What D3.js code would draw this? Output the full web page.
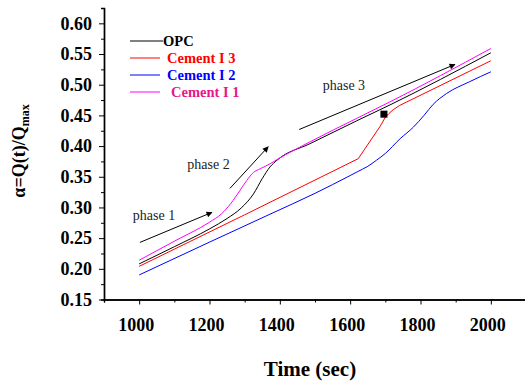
<!DOCTYPE html>
<html>
<head>
<meta charset="utf-8">
<script src="https://cdn.jsdelivr.net/npm/d3@7"></script>
<style>
  body { margin: 0; background: #fff; }
  svg { font-family: "Liberation Serif", "Times New Roman", serif; }
  .axis path, .axis line { stroke: #000; }
  .axis text { font-family: "Liberation Serif", "Times New Roman", serif; font-size: 18px; font-weight: bold; fill: #000; }
</style>
</head>
<body>
<svg id="chart" width="525" height="383"></svg>
<script>
// data (time in sec, alpha = Q(t)/Qmax)
var opcTime = [1000, 1100, 1200, 1250, 1290, 1325, 1350, 1372, 1392, 1486, 1618, 1713, 2000];
var opcAlpha = [0.208, 0.236, 0.265, 0.282, 0.299, 0.322, 0.347, 0.366, 0.377, 0.404, 0.441, 0.467, 0.552];

var c13Time = [1000, 1300, 1623, 1685, 1699, 1710, 1722, 1740, 2000];
var c13Alpha = [0.204, 0.288, 0.3795, 0.432, 0.446, 0.453, 0.459, 0.466, 0.539];

var c12Time = [1000, 1200, 1372, 1500, 1600, 1620, 1650, 1675, 1700, 1742, 1780, 1810, 1836, 1874, 1940, 2000];
var c12Alpha = [0.190, 0.2435, 0.289, 0.323, 0.352, 0.358, 0.367, 0.377, 0.388, 0.412, 0.431, 0.450, 0.468, 0.4856, 0.505, 0.521];

var c11Time = [1000, 1100, 1200, 1235, 1260, 1287, 1306, 1325, 1344, 1372, 1392, 1486, 1618, 1713, 2000];
var c11Alpha = [0.214, 0.245, 0.276, 0.290, 0.306, 0.328, 0.344, 0.357, 0.363, 0.371, 0.378, 0.407, 0.445, 0.472, 0.559];

var seriesNames = ["OPC", "Cement I 3", "Cement I 2", "Cement I 1"];
var seriesColors = ["#000000", "#ff0000", "#0000ff", "#ff00ff"];
var labelColors = ["#000000", "#ff0000", "#0000ff", "#e6178a"];

var xMajorTicks = [1000, 1200, 1400, 1600, 1800, 2000];
var yMajorTicks = [0.15, 0.20, 0.25, 0.30, 0.35, 0.40, 0.45, 0.50, 0.55, 0.60];

// annotations in data units
var phaseLabels = ["phase 1", "phase 2", "phase 3"];
var phaseText = [[982, 0.280], [1137, 0.363], [1522, 0.492]];
var phaseArrows = [[[1002, 0.243], [1207, 0.292]], [[1258, 0.331], [1367, 0.399]], [[1455, 0.427], [1898, 0.533]]];
var squareMark = [1696, 0.452];

var svg = d3.select("#chart");

var xScale = d3.scaleLinear().domain([900, 2100]).range([104, 526]);
var yScale = d3.scaleLinear().domain([0.15, 0.625]).range([299.5, 8]);

// minor ticks first, then major ones with labels
var xMinor = d3.range(900, 2101, 100).filter(function (d) { return xMajorTicks.indexOf(d) < 0; });
svg.append("g")
    .attr("class", "axis")
    .attr("transform", "translate(0,299.5)")
    .call(d3.axisBottom(xScale).tickValues(xMinor).tickSize(3).tickFormat(""));

var xAxis = svg.append("g")
    .attr("class", "axis")
    .attr("transform", "translate(0,299.5)")
    .call(d3.axisBottom(xScale).tickValues(xMajorTicks).tickSize(5).tickSizeOuter(0).tickPadding(10).tickFormat(d3.format("d")));
xAxis.selectAll("text").attr("dx", -3.5).attr("dy", "0.9em");

var yMinor = d3.range(0.175, 0.63, 0.05);
svg.append("g")
    .attr("class", "axis")
    .attr("transform", "translate(104,0)")
    .call(d3.axisLeft(yScale).tickValues(yMinor).tickSize(3).tickFormat(""));

svg.append("g")
    .attr("class", "axis")
    .attr("transform", "translate(104,0)")
    .call(d3.axisLeft(yScale).tickValues(yMajorTicks).tickSize(5).tickSizeOuter(0).tickPadding(7).tickFormat(d3.format(".2f")));

svg.selectAll(".axis").attr("font-family", null);
svg.selectAll(".axis .domain").attr("stroke-width", 1.4);

// curves
var allSeries = [
    opcTime.map(function (t, i) { return [t, opcAlpha[i]]; }),
    c13Time.map(function (t, i) { return [t, c13Alpha[i]]; }),
    c12Time.map(function (t, i) { return [t, c12Alpha[i]]; }),
    c11Time.map(function (t, i) { return [t, c11Alpha[i]]; })
];

var smooth = d3.line()
    .x(function (d) { return xScale(d[0]); })
    .y(function (d) { return yScale(d[1]); })
    .curve(d3.curveMonotoneX);

var straight = d3.line()
    .x(function (d) { return xScale(d[0]); })
    .y(function (d) { return yScale(d[1]); });

// draw order: blue, red, black, magenta
[2, 1, 0, 3].forEach(function (k) {
    svg.append("path")
        .datum(allSeries[k])
        .attr("fill", "none")
        .attr("stroke", seriesColors[k])
        .attr("stroke-width", 1)
        .attr("d", k === 1 ? straight : smooth);
});

// arrows
svg.append("defs").append("marker")
    .attr("id", "head")
    .attr("viewBox", "0 0 10 10")
    .attr("refX", 9).attr("refY", 5)
    .attr("markerWidth", 9).attr("markerHeight", 6)
    .attr("markerUnits", "userSpaceOnUse")
    .attr("orient", "auto")
    .append("path")
    .attr("d", "M0,0L10,5L0,10Z")
    .attr("fill", "#000");

phaseArrows.forEach(function (a) {
    svg.append("line")
        .attr("x1", xScale(a[0][0])).attr("y1", yScale(a[0][1]))
        .attr("x2", xScale(a[1][0])).attr("y2", yScale(a[1][1]))
        .attr("stroke", "#000")
        .attr("stroke-width", 1)
        .attr("marker-end", "url(#head)");
});

phaseLabels.forEach(function (lab, i) {
    svg.append("text")
        .attr("x", xScale(phaseText[i][0]))
        .attr("y", yScale(phaseText[i][1]))
        .attr("font-size", 14)
        .attr("fill", "#222")
        .text(lab);
});

svg.append("rect")
    .attr("x", xScale(squareMark[0]) - 3.5)
    .attr("y", yScale(squareMark[1]) - 3.5)
    .attr("width", 7).attr("height", 7)
    .attr("fill", "#000");

// legend
var legendY = [41, 58, 75, 92];
var legendTextX = [163, 167, 167, 171];
seriesNames.forEach(function (name, i) {
    svg.append("line")
        .attr("x1", 130).attr("x2", i === 0 ? 163 : 160)
        .attr("y1", legendY[i]).attr("y2", legendY[i])
        .attr("stroke", seriesColors[i])
        .attr("stroke-width", 1);
    svg.append("text")
        .attr("x", legendTextX[i])
        .attr("y", legendY[i] + 5)
        .attr("font-size", 14.5)
        .attr("font-weight", "bold")
        .attr("fill", labelColors[i])
        .text(name);
});

// axis titles
svg.append("text")
    .attr("x", 310)
    .attr("y", 376)
    .attr("text-anchor", "middle")
    .attr("font-size", 21)
    .attr("font-weight", "bold")
    .text("Time (sec)");

var yTitle = svg.append("text")
    .attr("transform", "translate(25,151) rotate(-90)")
    .attr("text-anchor", "middle")
    .attr("font-size", 18)
    .attr("font-weight", "bold");
yTitle.append("tspan").text("\u03b1=Q(t)/Q");
yTitle.append("tspan").attr("font-size", 12).attr("dy", 4).text("max");
</script>
</body>
</html>
